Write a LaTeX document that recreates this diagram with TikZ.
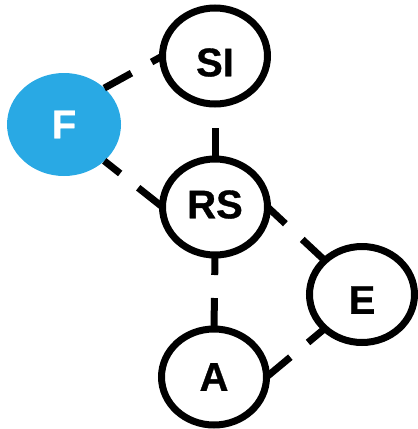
\documentclass[tikz,border=0pt]{standalone}
\usepackage{fontspec}
\setmainfont{Liberation Sans}
\newfontfamily\labelfont[FakeBold=0.8]{Liberation Sans Bold}
\usetikzlibrary{shapes.geometric}
\definecolor{fblue}{RGB}{41,169,228}
\tikzset{
  ringnode/.style={ellipse,draw=black,line width=7pt,fill=white,minimum width=105pt,minimum height=96pt,inner sep=0pt,outer sep=0pt,font=\labelfont\fontsize{40}{40}\selectfont},
  fillednode/.style={ellipse,fill=fblue,draw=none,minimum width=114pt,minimum height=103pt,inner sep=0pt,outer sep=0pt,text=white,font=\labelfont\fontsize{40}{40}\selectfont},
  link/.style={line width=7pt,dash pattern=on 31pt off 23pt,line cap=butt}
}
\begin{document}
\begin{tikzpicture}[x=1pt,y=-1pt]
\useasboundingbox (0,0) rectangle (418,429);
\node[fillednode] (F) at (64,124.5) {F};
\node[ringnode,text height=40.6pt,text depth=0pt] (SI) at (215,56) {SI};
\node[ringnode,text height=28.6pt,text depth=6pt] (RS) at (215,207) {RS};
\node[ringnode,text height=38.6pt,text depth=0pt] (E) at (362,294.5) {E};
\node[ringnode] (A) at (214,377) {A};
\draw[link] (F.north east) -- (SI.west);
\draw[link] (RS.west) -- (F.south east);
\draw[link] (RS.north) -- (SI.south);
\draw[link] (A.north) -- (RS.south);
\draw[link] (E.north west) -- (RS.east);
\draw[link] (A.east) -- (E.south west);
\end{tikzpicture}
\end{document}
